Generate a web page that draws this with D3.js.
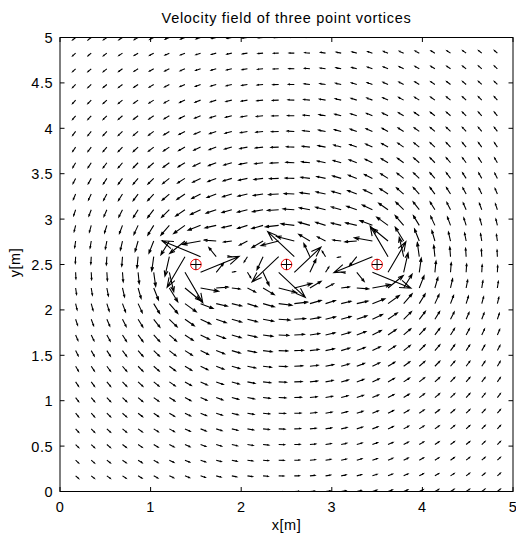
<!DOCTYPE html>
<html><head><meta charset="utf-8">
<script src="https://cdn.jsdelivr.net/npm/d3@7"></script>
<style>body{margin:0;background:#fff} text{font-family:"Liberation Sans",Arial,Helvetica,sans-serif;fill:#000}</style>
</head><body>
<svg id="c" width="516" height="536"></svg>
<script>
// Data: three point vortices (positions, circulation) and the sampling grid
const vortexX = [1.5, 2.5, 3.5];
const vortexY = [2.5, 2.5, 2.5];
const circulation = [1, 1, 1];
const gridN = 30;                       // grid step 5/29
const gridX = d3.range(1, gridN - 1).map(i => 5 * i / (gridN - 1)); // interior columns
const gridY = d3.range(0, gridN).map(i => 5 * i / (gridN - 1));     // all rows
const xTicks = [0, 1, 2, 3, 4, 5];
const yTicks = [0, 0.5, 1, 1.5, 2, 2.5, 3, 3.5, 4, 4.5, 5];
const titleText = "Velocity field of three point vortices";
const xLabel = "x[m]", yLabel = "y[m]";

const W = 516, H = 536;
const L = 60, R = 513, T = 37.5, B = 491.5;
const arrowScale = 0.309; // data units per unit velocity

const svg = d3.select("#c");
const x = d3.scaleLinear().domain([0, 5]).range([L, R]);
const y = d3.scaleLinear().domain([0, 5]).range([B, T]);

svg.append("defs").append("clipPath").attr("id", "clip")
  .append("rect").attr("x", L).attr("y", T).attr("width", R - L).attr("height", B - T);

// velocity field (Biot-Savart for point vortices)
const field = [];
gridX.forEach(gx => gridY.forEach(gy => {
  let u = 0, v = 0;
  vortexX.forEach((vx, k) => {
    const dx = gx - vx, dy = gy - vortexY[k];
    const r2 = dx * dx + dy * dy;
    if (r2 < 1e-12) return;
    const f = circulation[k] / (2 * Math.PI * r2);
    u += -f * dy; v += f * dx;
  });
  field.push({gx, gy, u, v});
}));

const alpha = 0.27, beta = 0.35;
const g = svg.append("g").attr("clip-path", "url(#clip)")
  .attr("stroke", "#000").attr("stroke-width", 1.1).attr("fill", "none");
field.forEach(d => {
  const x1 = x(d.gx), y1 = y(d.gy);
  const x2 = x(d.gx + arrowScale * d.u), y2 = y(d.gy + arrowScale * d.v);
  const du = x2 - x1, dv = y2 - y1;
  const h1x = x2 - alpha * (du + beta * dv), h1y = y2 - alpha * (dv - beta * du);
  const h2x = x2 - alpha * (du - beta * dv), h2y = y2 - alpha * (dv + beta * du);
  g.append("path").attr("d",
    `M${x1},${y1}L${x2},${y2}M${h1x},${h1y}L${x2},${y2}L${h2x},${h2y}`);
});

// vortex markers
const mk = svg.append("g");
vortexX.forEach((vx, k) => {
  const cx = x(vx), cy = y(vortexY[k]);
  mk.append("circle").attr("cx", cx).attr("cy", cy).attr("r", 5.3)
    .attr("fill", "none").attr("stroke", "#ff0000").attr("stroke-width", 1);
  mk.append("path").attr("d", `M${cx - 5.3},${cy}H${cx + 5.3}M${cx},${cy - 5.3}V${cy + 5.3}`)
    .attr("stroke", "#000").attr("stroke-width", 1);
});

// axes box and ticks
const ax = svg.append("g").attr("stroke", "#000").attr("stroke-width", 1).attr("fill", "none");
ax.append("rect").attr("x", L).attr("y", T).attr("width", R - L).attr("height", B - T);
const tl = 4.5;
xTicks.forEach(t => {
  const px = x(t);
  ax.append("path").attr("d", `M${px},${B}V${B - tl}M${px},${T}V${T + tl}`);
});
yTicks.forEach(t => {
  const py = y(t);
  ax.append("path").attr("d", `M${L},${py}H${L + tl}M${R},${py}H${R - tl}`);
});

const fs = 14.5, ls = 0.5;
xTicks.forEach(t => {
  svg.append("text").attr("x", x(t)).attr("y", B + 20).attr("text-anchor", "middle")
    .attr("font-size", fs).attr("letter-spacing", ls).text(d3.format("~g")(t));
});
yTicks.forEach(t => {
  svg.append("text").attr("x", L - 7).attr("y", y(t) + 5.5).attr("text-anchor", "end")
    .attr("font-size", fs).attr("letter-spacing", ls).text(d3.format("~g")(t));
});
svg.append("text").attr("x", (L + R) / 2).attr("y", 23).attr("text-anchor", "middle")
  .attr("font-size", fs).attr("letter-spacing", 0.7).text(titleText);
svg.append("text").attr("x", (L + R) / 2).attr("y", 530).attr("text-anchor", "middle")
  .attr("font-size", fs).attr("letter-spacing", ls).text(xLabel);
svg.append("text").attr("transform", `translate(20,${(T + B) / 2 - 2}) rotate(-90)`)
  .attr("text-anchor", "middle").attr("font-size", fs).attr("letter-spacing", ls).text(yLabel);
</script>
</body></html>
